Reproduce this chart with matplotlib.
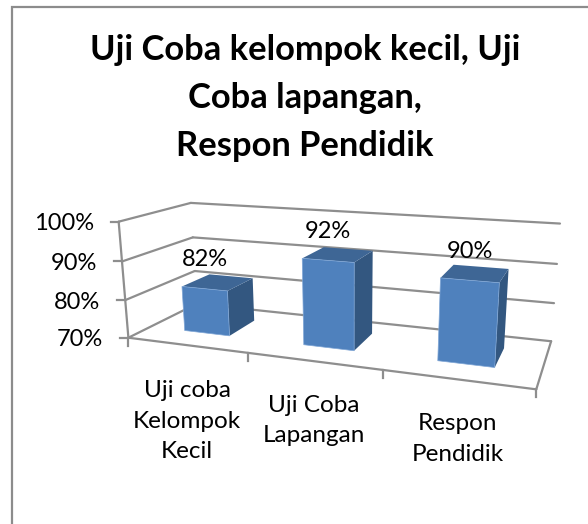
import numpy as np
import matplotlib
matplotlib.use("Agg")
import matplotlib.pyplot as plt
from matplotlib.patches import Polygon

plt.rcParams["font.family"] = ["Lato", "DejaVu Sans"]

title = "Uji Coba kelompok kecil, Uji\nCoba lapangan,\nRespon Pendidik"
categories = ["Uji coba\nKelompok\nKecil", "Uji Coba\nLapangan", "Respon\nPendidik"]
values = [82, 92, 90]
y_ticks = [70, 80, 90, 100]

GRID = "#8e8e8e"
FRONT = "#4f81bd"
TOP = "#3e6695"
SIDE = "#335780"

# reference points of the 3d box: (category pos, percent, depth) -> pixel
box_pts = [
    (0, 70, 0, 128, 338), (0, 80, 0, 125, 300), (0, 90, 0, 122, 261), (0, 100, 0, 119, 222),
    (0, 70, 1, 197, 303), (0, 80, 1, 195, 271), (0, 90, 1, 192, 238), (0, 100, 1, 191, 203),
    (3, 70, 1, 551, 342), (3, 80, 1, 554, 303), (3, 90, 1, 557, 264), (3, 100, 1, 560, 223),
    (1, 70, 0, 248, 353), (2, 70, 0, 383, 370), (3, 70, 0, 536, 389),
]


def fit_camera(pts):
    rows = []
    for x, v, d, px, py in pts:
        p = [x, v / 100, d, 1]
        rows.append(p + [0, 0, 0, 0] + [-px * c for c in p])
        rows.append([0, 0, 0, 0] + p + [-py * c for c in p])
    return np.linalg.svd(np.array(rows))[2][-1].reshape(3, 4)


cam = fit_camera(box_pts)


def proj(x, v, d):
    u = cam @ np.array([x, v / 100, d, 1])
    return u[0] / u[2], u[1] / u[2]


fig = plt.figure(figsize=(5.88, 5.24), dpi=100)
ax = fig.add_axes([0, 0, 1, 1])
ax.set_xlim(0, 588)
ax.set_ylim(524, 0)
ax.axis("off")

# chart frame, only top and left are in the crop
ax.plot([11.5, 11.5, 588], [524, 6.5, 6.5], color="#8c8c8c", lw=1.6, solid_joinstyle="miter")

ax.text(305, 98, title, ha="center", va="center", fontsize=24.8, fontweight="bold",
        color="black", linespacing=1.61)


def line(a, b):
    pa, pb = proj(*a), proj(*b)
    ax.plot([pa[0], pb[0]], [pa[1], pb[1]], color=GRID, lw=1.6, solid_capstyle="round", zorder=1)


# walls
for t in y_ticks:
    line((0, t, 0), (0, t, 1))
    line((0, t, 1), (3, t, 1))
    px, py = proj(0, t, 0)
    ax.plot([px - 8, px], [py, py], color=GRID, lw=1.6, zorder=1)
    ax.text(px - 25, py + 2, f"{t}%", ha="right", va="center", fontsize=17, color="black")
line((0, 70, 0), (0, 100, 0))

# floor
line((0, 70, 0), (3, 70, 0))
line((3, 70, 0), (3, 70, 1))
for i in range(4):
    px, py = proj(i, 70, 0)
    ax.plot([px, px], [py, py + 8], color=GRID, lw=1.6, zorder=1)

# bars
half = 0.195
d0, d1 = 0.3, 0.72
for i, val in enumerate(values):
    c = i + 0.5
    l, r = c - half, c + half
    side = [proj(r, 70, d0), proj(r, 70, d1), proj(r, val, d1), proj(r, val, d0)]
    ax.add_patch(Polygon(side, closed=True, fc=SIDE, ec="none", zorder=3))
    top = [proj(l, val, d0), proj(r, val, d0), proj(r, val, d1), proj(l, val, d1)]
    ax.add_patch(Polygon(top, closed=True, fc=TOP, ec="none", zorder=3))
    front = [proj(l, 70, d0), proj(r, 70, d0), proj(r, val, d0), proj(l, val, d0)]
    ax.add_patch(Polygon(front, closed=True, fc=FRONT, ec="#7fa6d6", lw=0.5, zorder=4))
    px, py = proj(c, val, d0)
    ax.text(px, py - 29, f"{val}%", ha="center", va="center", fontsize=17, color="black", zorder=5)

# category labels sit under their tick gaps
for i, cat in enumerate(categories):
    px, py = proj(i + 0.5, 70, 0)
    n = cat.count("\n") + 1
    ax.text(px + 1, py + 43 + 16.5 * (n - 1), cat, ha="center", va="center", fontsize=17.5,
            color="black", linespacing=1.56)

fig.savefig("out.png", dpi=100, facecolor="white")
